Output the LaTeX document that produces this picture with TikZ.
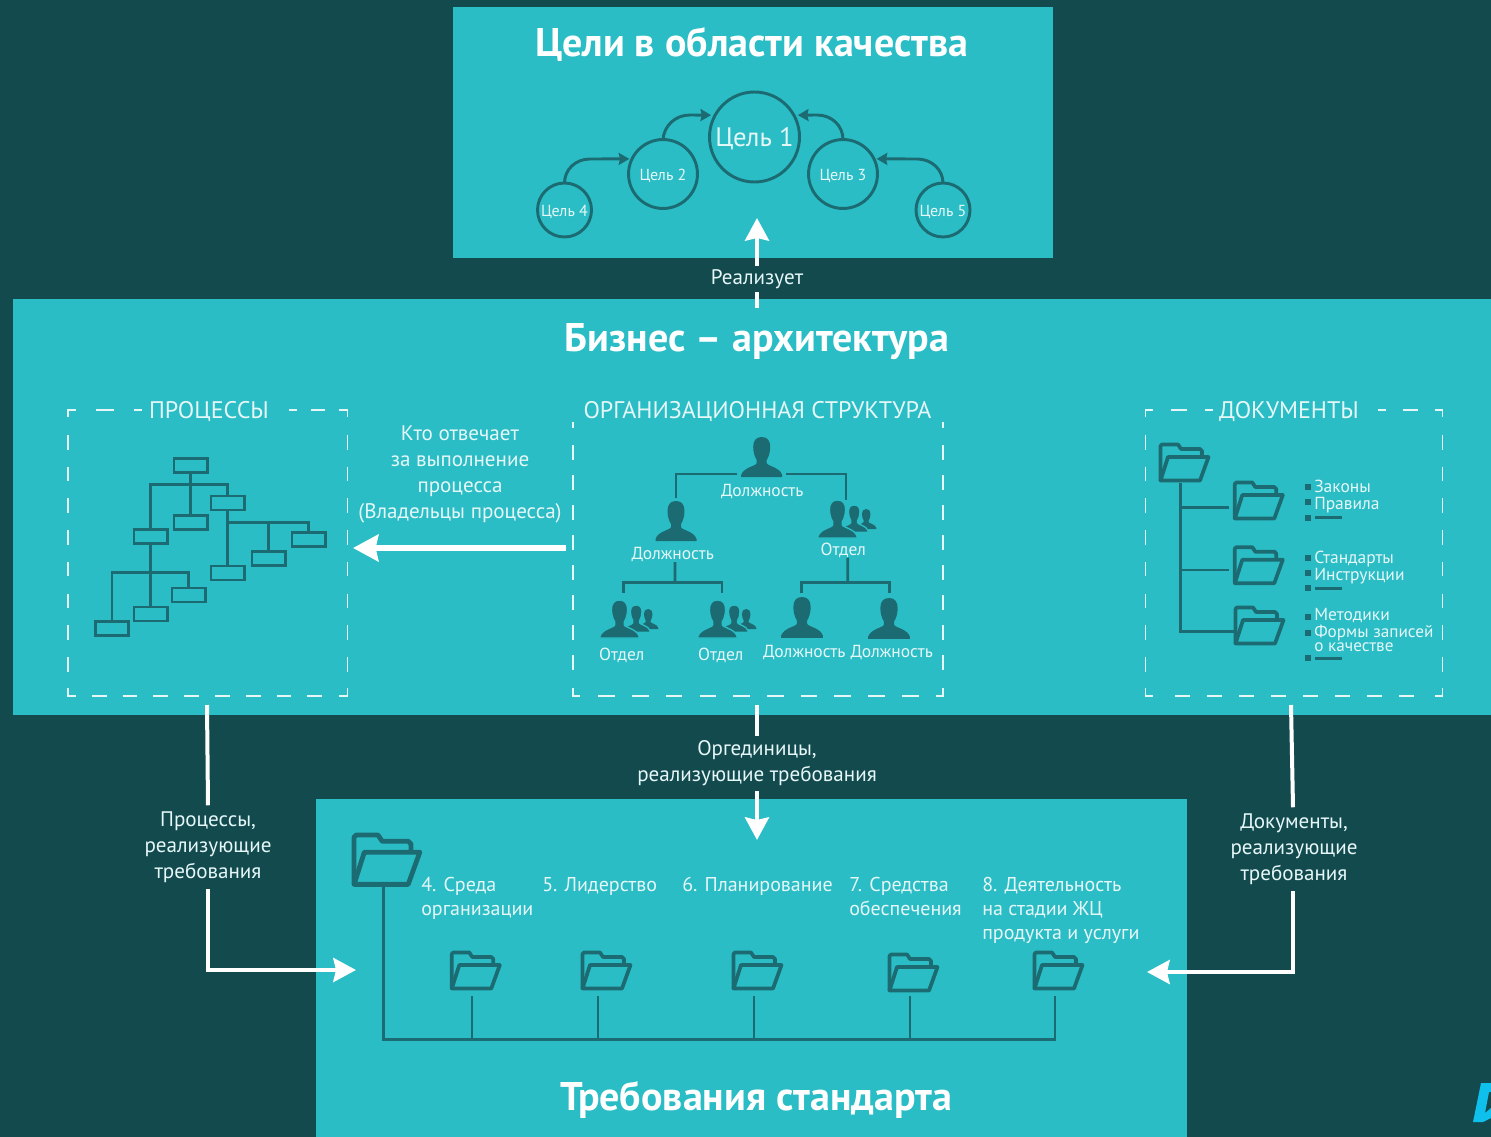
\documentclass[tikz,border=0pt]{standalone}
\usepackage{fontspec}
\setmainfont{PT Sans}
\usetikzlibrary{arrows.meta,calc}
\definecolor{bgdark}{HTML}{134A4E}
\definecolor{panel}{HTML}{2ABDC5}
\definecolor{ink}{HTML}{1C6B72}
\definecolor{soft}{HTML}{E6F7F8}
\definecolor{logo}{HTML}{0FC0EC}
\newcommand{\fs}[2]{\fontsize{#1}{#2}\selectfont}
\newcommand{\personp}[3]{\begin{scope}[shift={(#1,#2)},scale=#3]
\path[fill=ink] (0,0) .. controls (-6,0) and (-8.5,4) .. (-8.5,10) .. controls (-8.5,15) and (-7,20) .. (-5,23) -- (-5,26) .. controls (-5,29) and (-18,30) .. (-20.5,38) -- (-20.5,40) -- (20.5,40) -- (20.5,38) .. controls (18,30) and (5,29) .. (5,26) -- (5,23) .. controls (7,20) and (8.5,15) .. (8.5,10) .. controls (8.5,4) and (6,0) .. (0,0) -- cycle;
\end{scope}}
\newcommand{\personq}[3]{\begin{scope}[shift={(#1,#2)},scale=#3]
\path[fill=ink,draw=panel,line width=1pt] (0,0) .. controls (-6,0) and (-8.5,4) .. (-8.5,10) .. controls (-8.5,15) and (-7,20) .. (-5,23) -- (-5,26) .. controls (-5,29) and (-18,30) .. (-20.5,38) -- (-20.5,40) -- (20.5,40) -- (20.5,38) .. controls (18,30) and (5,29) .. (5,26) -- (5,23) .. controls (7,20) and (8.5,15) .. (8.5,10) .. controls (8.5,4) and (6,0) .. (0,0) -- cycle;
\end{scope}}
\newcommand{\groupp}[2]{\personp{#1+28.7}{#2+9}{0.5}\personq{#1+16.7}{#2+5}{0.68}\personq{#1}{#2}{0.95}}
\newcommand{\folder}[4]{\begin{scope}[shift={(#1,#2)},scale=#3]
\draw[ink,line width=#4,line join=round] (1.5,37.5) -- (1.5,3) -- (3,1.5) -- (19,1.5) -- (22,6) -- (41,6) -- (43,8) -- (43,14);
\draw[ink,line width=#4,line join=round] (1.5,37.5) -- (9,14) -- (49.5,14) -- (41,37.5) -- cycle;
\end{scope}}
\tikzset{
 linkw/.style={white,line width=3pt},
 arrw/.style={white,line width=3pt,-{Stealth[length=17pt,width=18pt,inset=2pt]}},
 goal/.style={circle,draw=ink,line width=2.2pt,text=soft,inner sep=0pt,outer sep=0pt},
 goalarr/.style={ink,line width=2.2pt,-{Stealth[length=8pt,width=9pt,inset=1pt]}},
 bigtitle/.style={text=white,font=\bfseries\fs{30}{34},inner sep=0pt},
 heading/.style={text=soft,font=\fs{18}{20},inner sep=0pt},
 linktext/.style={text=soft,font=\fs{15.8}{19.5},align=center,inner sep=0pt},
 small/.style={text=soft,font=\fs{13.1}{14},inner sep=0pt},
 smalll/.style={small,anchor=west},
 req/.style={text=soft,font=\fs{15}{18},align=left,anchor=north west,inner sep=0pt},
 pbox/.style={draw=ink,line width=2pt,minimum width=25pt,minimum height=10.5pt,inner sep=0pt,outer sep=0pt},
 pline/.style={ink,line width=2pt},
 oline/.style={ink,line width=2pt},
 dl/.style={soft,line width=1.1pt},
}
\begin{document}
\begin{tikzpicture}[x=0.75pt,y=-0.75pt]
\useasboundingbox (0,0) rectangle (1491,1137);
\fill[bgdark] (0,0) rectangle (1491,1137);
\fill[panel] (453,7) rectangle (1053,258);
\fill[panel] (13,299) rectangle (1491,715);
\fill[panel] (316,799) rectangle (1187,1137);
% logo
\fill[logo] (1481,1083) -- (1491,1083) -- (1491,1092) -- (1489,1092) -- (1485,1113) -- (1491,1108) -- (1491,1118) -- (1483,1122) -- (1473,1122) -- cycle;
% titles
\node[bigtitle] (t1) at (752,44) {Цели в области качества};
\node[bigtitle] (t2) at (757,342) {Бизнес – архитектура};
\node[bigtitle] (t3) at (756,1100) {Требования стандарта};
% goals
\node[goal,minimum size=67.5pt,font=\fs{20}{22}] (g1) at (754.5,137) {\raisebox{0pt}[.7em][0pt]{Цель 1}};
\node[goal,minimum size=51.7pt,font=\fs{12}{13}] (g2) at (663,174) {\raisebox{0pt}[.8em][0pt]{Цель 2}};
\node[goal,minimum size=51.7pt,font=\fs{12}{13}] (g3) at (843,174) {\raisebox{0pt}[.8em][0pt]{Цель 3}};
\node[goal,minimum size=40.5pt,font=\fs{12}{13}] (g4) at (564.5,210) {\raisebox{0pt}[.8em][0pt]{Цель 4}};
\node[goal,minimum size=40.5pt,font=\fs{12}{13}] (g5) at (943,210) {\raisebox{0pt}[.8em][0pt]{Цель 5}};
\draw[goalarr,shorten >=2pt] (g4.north) .. controls (564.5,170) and (575,159) .. (590,159) -- (g2.154);
\draw[goalarr,shorten >=3pt] (g2.north) .. controls (664,126) and (675,115) .. (690,115) -- (g1.151);
\draw[goalarr,shorten >=3pt] (g3.north) .. controls (843,126) and (832,115) .. (817,115) -- (g1.29);
\draw[goalarr,shorten >=2pt] (g5.north) .. controls (943,170) and (932,159) .. (917,159) -- (g3.26);
% headings
\node[heading] (hp) at (209,412) {ПРОЦЕССЫ};
\node[heading] (ho) at (757.5,411.5) {ОРГАНИЗАЦИОННАЯ СТРУКТУРА};
\node[heading] (hd) at (1289,412) {ДОКУМЕНТЫ};
% frame: processes
\draw[dl] (68,417) -- (68,410) -- (76,410);
\draw[dl] (96,410) -- (114.3,410) (134,410) -- (141.7,410) (289.3,410) -- (297.3,410) (310.7,410) -- (325,410);
\draw[dl] (339.3,410) -- (347.5,410) -- (347.5,417);
\draw[dl,dash pattern=on 10.9pt off 12.9pt] (68,435) -- (68,680);
\draw[dl,dash pattern=on 10.9pt off 12.9pt] (347.5,435) -- (347.5,680);
\draw[dl,dash pattern=on 11.2pt off 11.9pt] (91.7,696) -- (335,696);
\draw[dl] (68,688) -- (68,696) -- (76,696);
\draw[dl] (347.5,688) -- (347.5,696) -- (339,696);
% frame: organisation
\draw[dl] (573,422) -- (573,428) (943,422) -- (943,428);
\draw[dl,dash pattern=on 11.2pt off 11.3pt] (573,445) -- (573,680);
\draw[dl,dash pattern=on 11.2pt off 11.3pt] (943,445) -- (943,680);
\draw[dl,dash pattern=on 12.5pt off 12.8pt] (598.3,696) -- (930,696);
\draw[dl] (573,688) -- (573,696) -- (580,696);
\draw[dl] (943,688) -- (943,696) -- (936,696);
% frame: documents
\draw[dl] (1145.5,417) -- (1145.5,410) -- (1153,410);
\draw[dl] (1170.7,410) -- (1187.3,410) (1205,410) -- (1212.7,410) (1378.3,410) -- (1386,410) (1402.7,410) -- (1418.3,410);
\draw[dl] (1435,410) -- (1442.7,410) -- (1442.7,417);
\draw[dl,dash pattern=on 10.9pt off 12.9pt] (1145.5,435) -- (1145.5,680);
\draw[dl,dash pattern=on 10.9pt off 12.9pt] (1442.7,435) -- (1442.7,680);
\draw[dl,dash pattern=on 11.5pt off 12.5pt] (1175,696) -- (1425,696);
\draw[dl] (1145.5,688) -- (1145.5,696) -- (1153,696);
\draw[dl] (1442.7,688) -- (1442.7,696) -- (1435,696);
% process tree
\node[pbox] (r1) at (190.5,465.2) {};
\node[pbox] (r2) at (227.8,503) {};
\node[pbox] (r3) at (190.5,522.2) {};
\node[pbox] (r4) at (150.7,536.8) {};
\node[pbox] (r5) at (308.8,539.8) {};
\node[pbox] (r6) at (268.5,558.3) {};
\node[pbox] (r7) at (227.8,573) {};
\node[pbox] (r8) at (188.8,595) {};
\node[pbox] (r9) at (150.7,614) {};
\node[pbox] (r10) at (112,628.7) {};
\coordinate (b1) at (190.5,484.3);
\coordinate (b2) at (227.8,522.3);
\coordinate (b3) at (150.7,572.3);
\draw[pline] (r1.south) -- (r3.north);
\draw[pline] (r4.north) |- (b1) -| (r2.north);
\draw[pline] (r2.south) -- (r7.north);
\draw[pline] (b2) -| (r5.north);
\draw[pline] (b2) -| (r6.north);
\draw[pline] (r4.south) -- (r9.north);
\draw[pline] (r10.north) |- (b3) -| (r8.north);
% org chart
\personp{761.7}{437}{1}
\personp{676}{501}{1}
\groupp{837.5}{500}
\groupp{619.5}{600}
\groupp{717.5}{600}
\personp{802}{597}{1.02}
\personp{889}{598}{1.02}
\node[small] (o1) at (762.3,491.5) {Должность};
\node[small] (o2) at (672.7,554.5) {Должность};
\node[small] (o3) at (843.3,550) {Отдел};
\node[small] (o4) at (621.7,655) {Отдел};
\node[small] (o5) at (720.7,655) {Отдел};
\node[small] (o6) at (804.3,653) {Должность};
\node[small] (o7) at (891.7,653) {Должность};
\coordinate (oa) at (736.7,474);
\coordinate (oal) at (676,497.7);
\coordinate (ob) at (786,474);
\coordinate (obr) at (846,500);
\draw[oline] (oa) -| (oal);
\draw[oline] (ob) -| (obr);
\coordinate (oc) at (675,582.3);
\coordinate (oc1) at (623.3,593.3);
\coordinate (oc2) at (722,593.3);
\draw[oline] (o2.south) ++(2.3,0) -- (oc);
\draw[oline] (oc1) |- (oc) -| (oc2);
\coordinate (od) at (847.7,582.3);
\coordinate (od1) at (801.7,593.3);
\coordinate (od2) at (889.3,593.3);
\draw[oline] (o3.south) ++(4.4,0) -- (od);
\draw[oline] (od1) |- (od) -| (od2);
% documents
\folder{1159}{443}{1}{2.8pt}
\folder{1233.3}{481}{1}{2.8pt}
\folder{1233.3}{545.7}{1}{2.8pt}
\folder{1234}{606}{1}{2.8pt}
\coordinate (dr) at (1180.7,483);
\coordinate (d1) at (1229.3,507.3);
\coordinate (d2) at (1229.3,570);
\coordinate (d3) at (1235,631.7);
\draw[oline] (dr) |- (d3);
\draw[oline] (dr |- d1) -- (d1);
\draw[oline] (dr |- d2) -- (d2);
\foreach \y in {486.7,502.3,517.7,558,572.7,588.3,616.7,632.7,658.3}{\fill[ink] (1304.7,\y-3) rectangle ++(6,6);}
\foreach \y in {517.7,588.3,658.3}{\draw[ink,line width=2pt] (1315,\y) -- (1341.7,\y);}
\node[smalll] (l1) at (1314,486.5) {Законы};
\node[smalll] (l2) at (1314,505) {Правила};
\node[smalll] (l3) at (1314,559.5) {Стандарты};
\node[smalll] (l4) at (1314,576.5) {Инструкции};
\node[smalll] (l5) at (1314,615.5) {Методики};
\node[smalll,align=left,font=\fs{12.9}{10}] (l6) at (1314,638.5) {Формы записей\\о качестве};
% requirements
\folder{352}{833}{1.37}{3.6pt}
\foreach \n/\x/\y in {a/450.3/951,b/581/951,c/732/951,d/888/953,e/1033/951}{\folder{\x}{\y}{1}{2.8pt}}
\coordinate (q0) at (383.5,887);
\coordinate (qe) at (1055,1039.3);
\draw[oline] (q0) |- (qe) -- (1055,996);
\foreach \x in {472,598,754,910}{\draw[oline] (\x,996) -- (\x,1039.3);}
\node[req] (q1) at (421,877) {4. Среда\\организации};
\node[req] (q2) at (542,877) {5. Лидерство};
\node[req] (q3) at (682,877) {6. Планирование};
\node[req] (q4) at (849,877) {7. Средства\\обеспечения};
\node[req] (q5) at (982,877) {8. Деятельность\\на стадии ЖЦ\\продукта и услуги};
% link labels
\node[linktext] (k1) at (757,279) {Реализует};
\node[linktext] (k2) at (460,474) {Кто отвечает\\за выполнение\\процесса\\(Владельцы процесса)};
\node[linktext] (k3) at (757,763.5) {Оргединицы,\\реализующие требования};
\node[linktext] (k4) at (208,847) {Процессы,\\реализующие\\требования};
\node[linktext] (k5) at (1294,849) {Документы,\\реализующие\\требования};
% white connectors
\coordinate (a1s) at (757,308);
\coordinate (a1e) at (757,218);
\coordinate (a2s) at (566,548);
\coordinate (a2e) at (353,548);
\coordinate (a3s) at (757,705);
\coordinate (a3e) at (757,840);
\coordinate (a4s) at (207,705);
\coordinate (a4e) at (356,970);
\coordinate (a5s) at (1291,705);
\coordinate (a5e) at (1147,972);
\draw[linkw] (a1s) -- ($(k1.south)+(0,3)$);
\draw[arrw] ($(k1.north)+(0,-3)$) -- (a1e);
\draw[white,line width=4pt,-{Stealth[length=19pt,width=20pt,inset=2pt]}] (a2s) -- (a2e);
\draw[linkw] (a3s) -- ($(k3.north)+(0,-5)$);
\draw[arrw] ($(k3.south)+(0,5)$) -- (a3e);
\draw[linkw] (a4s) -- ($(k4.north)+(0,-6)$);
\draw[arrw] ($(k4.south)+(0,6)$) |- (a4e);
\draw[linkw] (a5s) -- ($(k5.north)+(-1,-6)$);
\draw[arrw] ($(k5.south)+(-1,6)$) |- (a5e);
\end{tikzpicture}
\end{document}
